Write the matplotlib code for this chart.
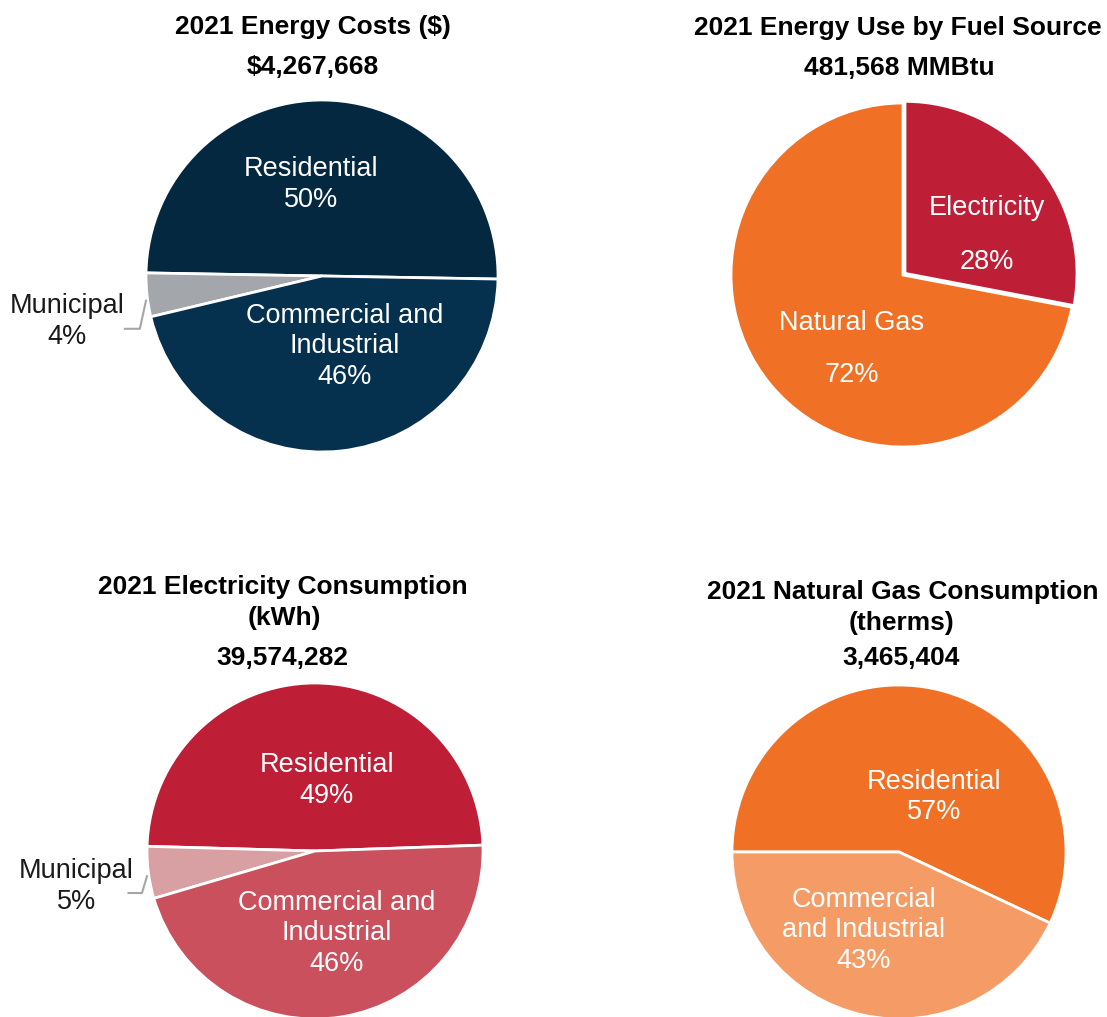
import matplotlib
matplotlib.use("Agg")
import matplotlib.pyplot as plt

plt.rcParams['font.family'] = ['Liberation Sans', 'DejaVu Sans']

# data
cost_labels = ["Residential", "Municipal", "Commercial and\nIndustrial"]
cost_values = [50, 4, 46]
fuel_labels = ["Electricity", "Natural Gas"]
fuel_values = [28, 72]
elec_labels = ["Residential", "Municipal", "Commercial and\nIndustrial"]
elec_values = [49, 5, 46]
gas_labels = ["Residential", "Commercial\nand Industrial"]
gas_values = [57, 43]

W, H = 1107, 1017
fig = plt.figure(figsize=(W / 100, H / 100), dpi=100)


def pie_axes(cx, cy, r):
    ax = fig.add_axes([(cx - r) / W, 1 - (cy + r) / H, 2 * r / W, 2 * r / H])
    ax.axis('off')
    return ax


def draw(ax, values, colors, start, ccw=True, explode=None):
    wedges, _ = ax.pie(values, colors=colors, startangle=start, counterclock=ccw,
                       explode=explode, radius=1,
                       wedgeprops=dict(edgecolor='white', linewidth=2))
    for w in wedges:
        w.set_clip_on(False)
    ax.set_xlim(-1, 1)
    ax.set_ylim(-1, 1)
    ax.set_aspect('equal')
    return wedges


def title(x, y, s):
    fig.text(x / W, 1 - y / H, s, ha='center', va='center', fontsize=19,
             fontweight='bold', color='black')


lab = dict(ha='center', va='center', fontsize=19.5, color='white', linespacing=1.22)
side = dict(ha='center', va='center', fontsize=19.5, color='#1a1a1a', linespacing=1.25)

# top left: energy costs
ax1 = pie_axes(322, 276, 176)
draw(ax1, cost_values, ['#042840', '#a3a6ab', '#05314f'], -1)
ax1.text(-0.06, 0.52, f"{cost_labels[0]}\n{cost_values[0]}%", **lab)
ax1.text(0.13, -0.40, f"{cost_labels[2]}\n{cost_values[2]}%", **lab)
ax1.text(-1.45, -0.26, f"{cost_labels[1]}\n{cost_values[1]}%", **side)
ax1.plot([-1.0, -1.035, -1.12], [-0.14, -0.30, -0.30], color='#a6a6a6', lw=1.5, clip_on=False)
title(313, 27, "2021 Energy Costs ($)")
title(313, 67, "$4,267,668")

# top right: fuel source
ax2 = pie_axes(903, 275, 172)
draw(ax2, fuel_values, ['#be1e36', '#f07125'], 90, ccw=False, explode=[0.015, 0])
ax2.text(0.49, 0.39, fuel_labels[0], **lab)
ax2.text(0.49, 0.076, f"{fuel_values[0]}%", **lab)
ax2.text(-0.30, -0.28, fuel_labels[1], **lab)
ax2.text(-0.30, -0.58, f"{fuel_values[1]}%", **lab)
title(898, 28, "2021 Energy Use by Fuel Source")
title(899, 68, "481,568 MMBtu")

# bottom left: electricity
ax3 = pie_axes(315, 851, 168)
draw(ax3, elec_values, ['#be1e36', '#d9a0a3', '#c9505c'], 2)
ax3.text(0.07, 0.42, f"{elec_labels[0]}\n{elec_values[0]}%", **lab)
ax3.text(0.13, -0.49, f"{elec_labels[2]}\n{elec_values[2]}%", **lab)
ax3.text(-1.42, -0.21, f"{elec_labels[1]}\n{elec_values[1]}%", **side)
ax3.plot([-1.0, -1.03, -1.11], [-0.15, -0.25, -0.25], color='#a6a6a6', lw=1.5, clip_on=False)
title(283, 587, "2021 Electricity Consumption")
title(284, 618, "(kWh)")
title(282, 658, "39,574,282")

# bottom right: natural gas
ax4 = pie_axes(899, 852, 167)
draw(ax4, gas_values, ['#f07125', '#f59c66'], 180, ccw=False)
ax4.text(0.21, 0.33, f"{gas_labels[0]}\n{gas_values[0]}%", **lab)
ax4.text(-0.21, -0.47, f"{gas_labels[1]}\n{gas_values[1]}%", **lab)
title(903, 592, "2021 Natural Gas Consumption")
title(902, 623, "(therms)")
title(901, 658, "3,465,404")

fig.savefig("out.png", dpi=100)
